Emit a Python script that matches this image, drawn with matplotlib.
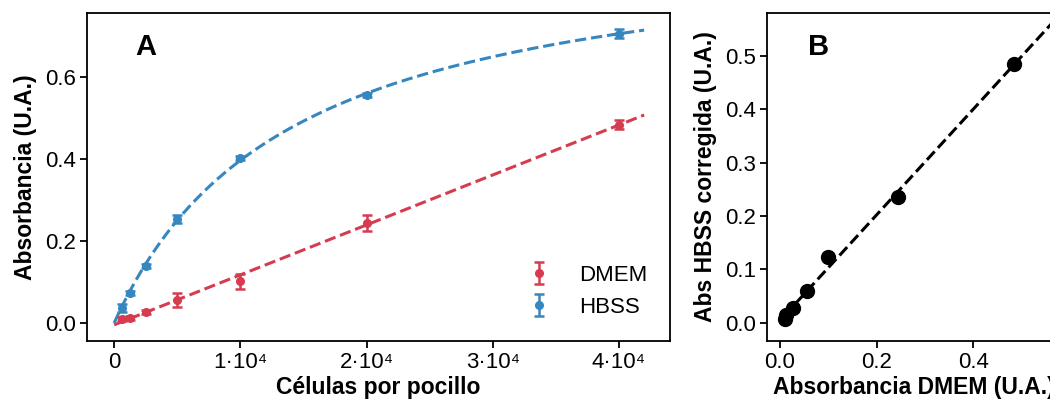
import numpy as np
import matplotlib
matplotlib.use("Agg")
import matplotlib.pyplot as plt
from matplotlib.ticker import FuncFormatter

plt.rcParams['font.family'] = ['Liberation Sans', 'DejaVu Sans']

# Data
cells = np.array([625, 1250, 2500, 5000, 10000, 20000, 40000])
abs_dmem = np.array([0.010, 0.012, 0.027, 0.056, 0.102, 0.244, 0.484])
err_dmem = np.array([0.004, 0.004, 0.004, 0.016, 0.018, 0.020, 0.012])
abs_hbss = np.array([0.037, 0.073, 0.139, 0.254, 0.402, 0.556, 0.706])
err_hbss = np.array([0.010, 0.005, 0.005, 0.010, 0.005, 0.006, 0.010])

# Panel B data
dmem_b = np.array([0.010, 0.012, 0.027, 0.055, 0.100, 0.244, 0.485])
hbss_corr = np.array([0.007, 0.015, 0.028, 0.060, 0.123, 0.235, 0.485])

red = '#d63c50'
blue = '#3687c0'

# fits
p_red = np.polyfit(cells, abs_dmem, 1)
best = None
for b in np.linspace(5000, 40000, 3501):
    f = cells / (b + cells)
    a = np.sum(f * abs_hbss) / np.sum(f * f)
    r = np.sum((abs_hbss - a * f) ** 2)
    if best is None or r < best[0]:
        best = (r, a, b)
_, a_mm, b_mm = best
xf = np.linspace(0, 42000, 300)

p_b = np.polyfit(dmem_b, hbss_corr, 1)
xb = np.linspace(0.01, 0.62, 100)

fig = plt.figure(figsize=(10.5, 4), dpi=100)
ax1 = fig.add_axes([0.083, 0.1475, 0.555, 0.82])
ax2 = fig.add_axes([0.7305, 0.1475, 0.279, 0.82])

ax1.plot(xf, np.polyval(p_red, xf), '--', color=red, lw=2.2)
ax1.plot(xf, a_mm * xf / (b_mm + xf), '--', color=blue, lw=2.2)
ax1.errorbar(cells, abs_dmem, yerr=err_dmem, fmt='o', color=red, ms=5.5,
             capsize=3.5, elinewidth=1.8, capthick=1.8, label='DMEM')
ax1.errorbar(cells, abs_hbss, yerr=err_hbss, fmt='o', color=blue, ms=5.5,
             capsize=3.5, elinewidth=1.8, capthick=1.8, label='HBSS')
ax1.set_xlim(-2140, 44040)
ax1.set_ylim(-0.044, 0.756)
ax1.set_xticks([0, 10000, 20000, 30000, 40000])
ax1.set_yticks([0.0, 0.2, 0.4, 0.6])
ax1.xaxis.set_major_formatter(FuncFormatter(
    lambda v, p: '0' if v == 0 else f'{int(v / 1e4)}\u00b710\u2074'))
ax1.yaxis.set_major_formatter(FuncFormatter(lambda v, p: f'{v:.1f}'))
ax1.set_xlabel('Células por pocillo', fontsize=16.5, fontweight='bold',
               labelpad=2)
ax1.set_ylabel('Absorbancia (U.A.)', fontsize=16.5, fontweight='bold',
               labelpad=6)
ax1.text(0.082, 0.895, 'A', transform=ax1.transAxes, fontsize=21,
         fontweight='bold', va='center')
ax1.legend(loc='lower right', frameon=False, fontsize=16,
           bbox_to_anchor=(0.995, 0.01), handletextpad=0.8, labelspacing=0.5)

ax2.plot(xb, np.polyval(p_b, xb), '--', color='black', lw=2.2)
ax2.plot(dmem_b, hbss_corr, 'o', color='black', ms=10)
ax2.set_xlim(-0.027, 0.58)
ax2.set_ylim(-0.034, 0.58)
ax2.set_xticks([0.0, 0.2, 0.4])
ax2.set_yticks([0.0, 0.1, 0.2, 0.3, 0.4, 0.5])
ax2.set_xlabel('Absorbancia DMEM (U.A.)', fontsize=16.5, fontweight='bold',
               labelpad=2)
ax2.set_ylabel('Abs HBSS corregida (U.A.)', fontsize=16.5, fontweight='bold',
               labelpad=6)
ax2.text(0.14, 0.895, 'B', transform=ax2.transAxes, fontsize=21,
         fontweight='bold', va='center')

for ax in (ax1, ax2):
    ax.tick_params(labelsize=16, width=1.3, length=5, pad=3)
    for s in ax.spines.values():
        s.set_linewidth(1.3)

fig.savefig('out.png', dpi=100)
